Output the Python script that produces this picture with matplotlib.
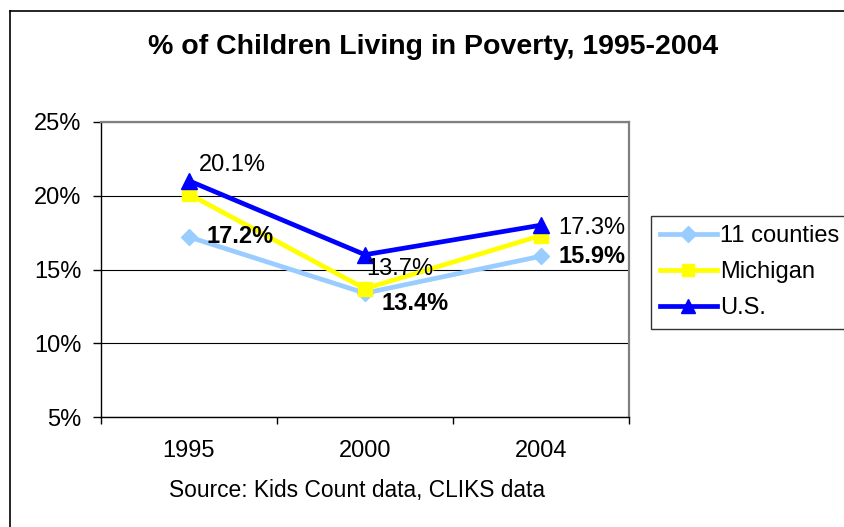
import matplotlib
matplotlib.use("Agg")
import matplotlib.pyplot as plt
from matplotlib.lines import Line2D
from matplotlib.ticker import FixedLocator, NullFormatter, FuncFormatter

plt.rcParams['font.family'] = ['Liberation Sans', 'DejaVu Sans']

years = ["1995", "2000", "2004"]
counties = [17.2, 13.4, 15.9]
michigan = [20.1, 13.7, 17.3]
us = [21.0, 16.0, 18.0]
yticks = [5, 10, 15, 20, 25]

W, H = 845, 527
FS = 17
fig = plt.figure(figsize=(W / 100, H / 100), dpi=100)
ax = fig.add_axes([101 / W, 1 - 417.3 / H, (629 - 101) / W, (417.3 - 121.7) / H])

x = [0.5, 1.5, 2.5]
ax.plot(x, counties, color='#99CCFF', lw=3.4, marker='D', ms=8.5, label='11 counties', zorder=3)
ax.plot(x, michigan, color='#FFFF00', lw=3.4, marker='s', ms=10, label='Michigan', zorder=4)
ax.plot(x, us, color='#0000FF', lw=3.4, marker='^', ms=11, label='U.S.', zorder=5)

ax.set_xlim(0, 3)
ax.set_ylim(5, 25)
ax.set_yticks(yticks)
ax.yaxis.set_major_formatter(FuncFormatter(lambda v, p: f"{v:.0f}%"))
ax.xaxis.set_major_locator(FixedLocator([0, 1, 2, 3]))
ax.xaxis.set_major_formatter(NullFormatter())
ax.xaxis.set_minor_locator(FixedLocator(x))
ax.set_xticklabels(years, minor=True)
ax.tick_params(axis='x', which='minor', length=0, pad=16, labelsize=FS)
ax.tick_params(axis='x', which='major', direction='out', length=5, width=1, color='black')
ax.tick_params(axis='y', direction='out', length=6, width=1, pad=8, labelsize=FS)

ax.grid(axis='y', color='black', lw=0.8)
ax.set_axisbelow(True)
for s in ['top', 'right']:
    ax.spines[s].set_color('#808080')
    ax.spines[s].set_linewidth(1.6)
for s in ['left', 'bottom']:
    ax.spines[s].set_color('black')
    ax.spines[s].set_linewidth(1.0)

# data labels
mich_off = [(10, 29), (1, 20), (17, 8)]
cnty_off = [(18, 0), (17, -10), (18, 0)]
for xi, v, off in zip(x, michigan, mich_off):
    ax.annotate(f"{v:.1f}%", (xi, v), xytext=off, textcoords='offset pixels',
                ha='left', va='center', fontsize=FS, zorder=6)
for xi, v, off in zip(x, counties, cnty_off):
    ax.annotate(f"{v:.1f}%", (xi, v), xytext=off, textcoords='offset pixels',
                ha='left', va='center', fontsize=FS, fontweight='bold', zorder=6)

fig.text(433 / W, 1 - 47 / H, "% of Children Living in Poverty, 1995-2004",
         ha='center', va='center', fontsize=20.5, fontweight='bold')
fig.text(357 / W, 1 - 490 / H, "Source: Kids Count data, CLIKS data",
         ha='center', va='center', fontsize=16.4)

leg = fig.legend(loc='upper left', bbox_to_anchor=(650.7 / W, 1 - 215.7 / H),
                 borderaxespad=0, fontsize=FS, frameon=True, fancybox=False,
                 handlelength=2.4, handletextpad=0.15, labelspacing=0.6,
                 borderpad=0.4, markerscale=0.9)
leg.get_frame().set_edgecolor('black')
leg.get_frame().set_linewidth(1.0)

# outer chart border (left and top visible)
fig.add_artist(Line2D([10 / W, 10 / W], [0, 1 - 10.5 / H], transform=fig.transFigure, color='black', lw=1.2))
fig.add_artist(Line2D([10 / W, 1], [1 - 10.5 / H, 1 - 10.5 / H], transform=fig.transFigure, color='black', lw=1.2))

fig.savefig("out.png", dpi=100)
